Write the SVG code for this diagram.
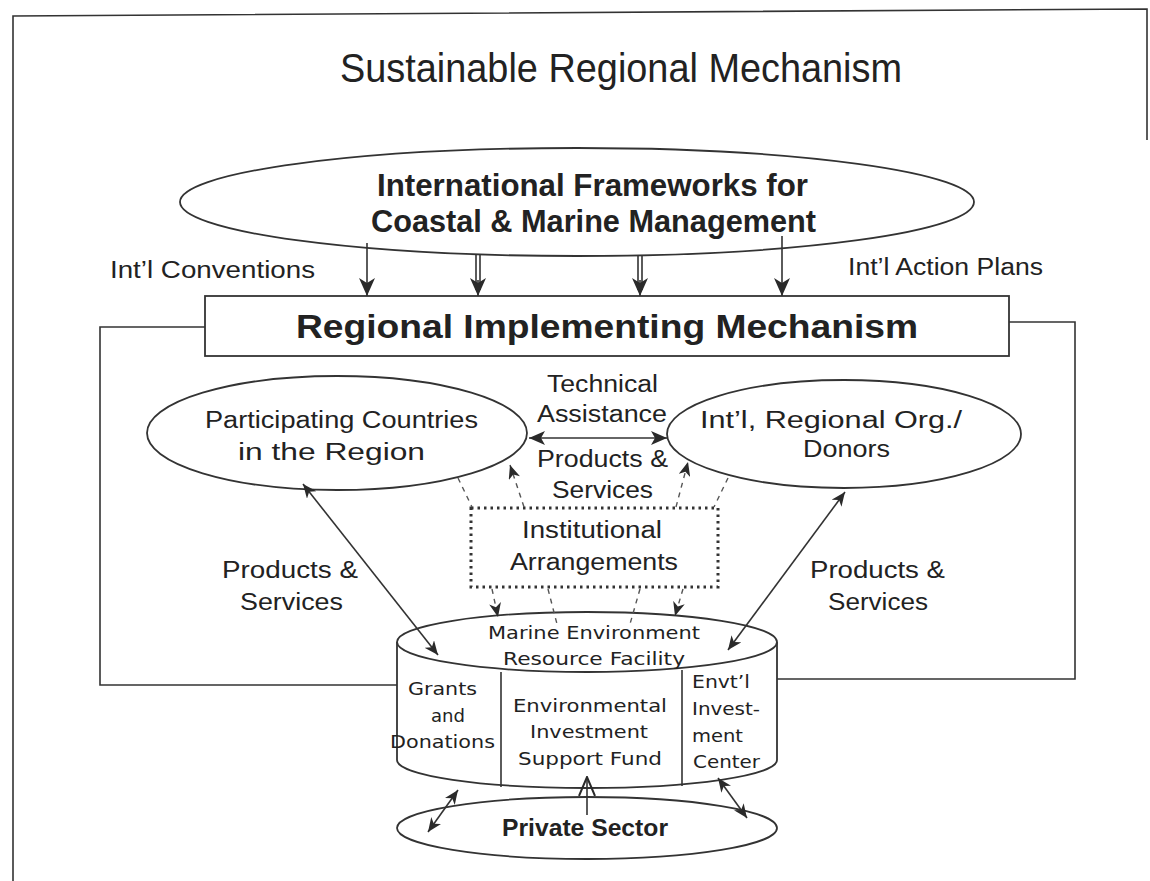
<svg xmlns="http://www.w3.org/2000/svg" width="1150" height="881" viewBox="0 0 1150 881">
<defs>
<marker id="barb" markerUnits="userSpaceOnUse" markerWidth="14" markerHeight="12" refX="14" refY="6" orient="auto-start-reverse" viewBox="0 0 14 12">
<path d="M0,0 L14,6 L0,12 L4,6 z" fill="#2a2a2a"/>
</marker>
<marker id="barbM" markerUnits="userSpaceOnUse" markerWidth="16" markerHeight="14" refX="16" refY="7" orient="auto-start-reverse" viewBox="0 0 16 14">
<path d="M0,0 L16,7 L0,14 L4,7 z" fill="#2a2a2a"/>
</marker>
<marker id="barbL" markerUnits="userSpaceOnUse" markerWidth="18" markerHeight="16" refX="18" refY="8" orient="auto" viewBox="0 0 18 16">
<path d="M0,0 L18,8 L0,16 L5,8 z" fill="#2a2a2a"/>
</marker>
<marker id="open" markerUnits="userSpaceOnUse" markerWidth="20" markerHeight="18" refX="19" refY="9" orient="auto" viewBox="0 0 20 18">
<path d="M0,1 L19,9 L0,17" fill="none" stroke="#2a2a2a" stroke-width="2"/>
</marker>
</defs>
<style>
.ln{fill:none;stroke:#333;stroke-width:1.6}
.shape{fill:#fff;stroke:#333;stroke-width:1.8}
.dash{fill:none;stroke:#555;stroke-width:1.4;stroke-dasharray:5,5}
.t{font-family:"Liberation Sans",Arial,sans-serif;fill:#222}
.v{font-family:"DejaVu Sans","Liberation Sans",sans-serif;fill:#222}
</style>
<rect width="1150" height="881" fill="#fff"/>
<path class="ln" d="M13,881 L13,16 L1147,9 L1147,140" stroke-width="2"/>
<text class="t" x="340" y="82" font-size="40" textLength="562" lengthAdjust="spacingAndGlyphs">Sustainable Regional Mechanism</text>

<g id="feedback">
<path class="ln" d="M205,327 L100,327 L100,685 L397,685"/>
<path class="ln" d="M1009,322 L1075,322 L1075,679 L777,679"/>
</g>

<g id="intl-frameworks">
<ellipse class="shape" cx="577" cy="202" rx="397" ry="54"/>
<text class="t" x="377" y="196" font-size="32" font-weight="bold" textLength="431" lengthAdjust="spacingAndGlyphs">International Frameworks for</text>
<text class="t" x="371" y="232" font-size="32" font-weight="bold" textLength="445" lengthAdjust="spacingAndGlyphs">Coastal &amp; Marine Management</text>
</g>

<g id="rim">
<rect class="shape" x="205" y="296" width="804" height="60"/>
<text class="t" x="296" y="338" font-size="33" font-weight="bold" textLength="622" lengthAdjust="spacingAndGlyphs">Regional Implementing Mechanism</text>
</g>

<g id="countries">
<ellipse class="shape" cx="337" cy="433" rx="190" ry="57"/>
<text class="t" x="205" y="428" font-size="23" textLength="273" lengthAdjust="spacingAndGlyphs">Participating Countries</text>
<text class="t" x="238" y="460" font-size="23" textLength="187" lengthAdjust="spacingAndGlyphs">in  the Region</text>
</g>

<g id="donors">
<ellipse class="shape" cx="844" cy="434" rx="177" ry="54"/>
<text class="t" x="700" y="428" font-size="23" textLength="262" lengthAdjust="spacingAndGlyphs">Int’l, Regional Org./</text>
<text class="t" x="803" y="457" font-size="23" textLength="87" lengthAdjust="spacingAndGlyphs">Donors</text>
</g>

<g id="institutional">
<rect x="471" y="508" width="247" height="79" fill="none" stroke="#333" stroke-width="3" stroke-dasharray="2.5,4"/>
<text class="t" x="522" y="538" font-size="23" textLength="140" lengthAdjust="spacingAndGlyphs">Institutional</text>
<text class="t" x="510" y="570" font-size="23" textLength="168" lengthAdjust="spacingAndGlyphs">Arrangements</text>
</g>

<g id="merf">
<path class="shape" d="M397,642 L397,760 A190,28 0 0 0 777,760 L777,642"/>
<ellipse class="shape" cx="587" cy="642" rx="190" ry="30"/>
<line class="ln" x1="501" y1="672" x2="501" y2="787"/>
<line class="ln" x1="682" y1="670" x2="682" y2="786"/>
<text class="v" x="488" y="639" font-size="18" textLength="212" lengthAdjust="spacingAndGlyphs">Marine Environment</text>
<text class="v" x="503" y="665" font-size="18" textLength="182" lengthAdjust="spacingAndGlyphs">Resource Facility</text>
<text class="v" x="408" y="695" font-size="18" textLength="69" lengthAdjust="spacingAndGlyphs">Grants</text>
<text class="v" x="431" y="722" font-size="18" textLength="34" lengthAdjust="spacingAndGlyphs">and</text>
<text class="v" x="390" y="748" font-size="18" textLength="105" lengthAdjust="spacingAndGlyphs">Donations</text>
<text class="v" x="513" y="712" font-size="18" textLength="154" lengthAdjust="spacingAndGlyphs">Environmental</text>
<text class="v" x="530" y="738" font-size="18" textLength="118" lengthAdjust="spacingAndGlyphs">Investment</text>
<text class="v" x="518" y="765" font-size="18" textLength="144" lengthAdjust="spacingAndGlyphs">Support Fund</text>
<text class="v" x="692" y="688" font-size="18" textLength="58" lengthAdjust="spacingAndGlyphs">Envt’l</text>
<text class="v" x="692" y="715" font-size="18" textLength="68" lengthAdjust="spacingAndGlyphs">Invest-</text>
<text class="v" x="692" y="742" font-size="18" textLength="51" lengthAdjust="spacingAndGlyphs">ment</text>
<text class="v" x="693" y="768" font-size="18" textLength="67" lengthAdjust="spacingAndGlyphs">Center</text>
</g>

<g id="private">
<ellipse class="shape" cx="587" cy="828" rx="190" ry="31"/>
<text class="t" x="502" y="836" font-size="24" font-weight="bold" textLength="166" lengthAdjust="spacingAndGlyphs">Private Sector</text>
</g>

<g id="connectors">
<line class="ln" x1="367" y1="243" x2="367" y2="296" marker-end="url(#barbL)"/>
<line class="ln" x1="476" y1="254" x2="476" y2="290"/>
<line class="ln" x1="480" y1="254" x2="480" y2="290"/>
<line class="ln" x1="478" y1="280" x2="478" y2="296" marker-end="url(#barbL)"/>
<line class="ln" x1="638" y1="256" x2="638" y2="290"/>
<line class="ln" x1="642" y1="256" x2="642" y2="290"/>
<line class="ln" x1="640" y1="280" x2="640" y2="296" marker-end="url(#barbL)"/>
<line class="ln" x1="782" y1="236" x2="782" y2="296" marker-end="url(#barbL)"/>

<line class="ln" x1="529" y1="438" x2="667" y2="438" stroke-width="3" marker-start="url(#barbM)" marker-end="url(#barbM)"/>
<line class="ln" x1="303" y1="484" x2="438" y2="655" marker-start="url(#barb)" marker-end="url(#barb)"/>
<line class="ln" x1="845" y1="492" x2="728" y2="650" marker-start="url(#barb)" marker-end="url(#barb)"/>

<line class="dash" x1="458" y1="478" x2="472" y2="507"/>
<line class="dash" x1="524" y1="507" x2="510" y2="465" marker-end="url(#barb)"/>
<line class="dash" x1="676" y1="507" x2="688" y2="462" marker-end="url(#barb)"/>
<line class="dash" x1="728" y1="478" x2="714" y2="507"/>
<line class="dash" x1="492" y1="589" x2="498" y2="617" marker-end="url(#barb)"/>
<line class="dash" x1="548" y1="589" x2="557" y2="624"/>
<line class="dash" x1="640" y1="589" x2="630" y2="624"/>
<line class="dash" x1="683" y1="589" x2="675" y2="616" marker-end="url(#barb)"/>

<line class="ln" x1="587" y1="815" x2="587" y2="777" marker-end="url(#open)"/>
<line class="ln" x1="428" y1="832" x2="458" y2="790" marker-start="url(#barb)" marker-end="url(#barb)"/>
<line class="ln" x1="718" y1="778" x2="747" y2="818" marker-start="url(#barb)" marker-end="url(#barb)"/>
</g>

<g id="labels">
<text class="t" x="110" y="278" font-size="23" textLength="205" lengthAdjust="spacingAndGlyphs">Int’l Conventions</text>
<text class="t" x="848" y="275" font-size="23" textLength="195" lengthAdjust="spacingAndGlyphs">Int’l Action Plans</text>
<text class="t" x="547" y="392" font-size="23" textLength="111" lengthAdjust="spacingAndGlyphs">Technical</text>
<text class="t" x="537" y="422" font-size="23" textLength="130" lengthAdjust="spacingAndGlyphs">Assistance</text>
<text class="t" x="537" y="467" font-size="23" textLength="131" lengthAdjust="spacingAndGlyphs">Products &amp;</text>
<text class="t" x="552" y="498" font-size="23" textLength="101" lengthAdjust="spacingAndGlyphs">Services</text>
<text class="t" x="222" y="578" font-size="23" textLength="136" lengthAdjust="spacingAndGlyphs">Products &amp;</text>
<text class="t" x="240" y="610" font-size="23" textLength="103" lengthAdjust="spacingAndGlyphs">Services</text>
<text class="t" x="810" y="578" font-size="23" textLength="135" lengthAdjust="spacingAndGlyphs">Products &amp;</text>
<text class="t" x="828" y="610" font-size="23" textLength="100" lengthAdjust="spacingAndGlyphs">Services</text>
</g>
</svg>
